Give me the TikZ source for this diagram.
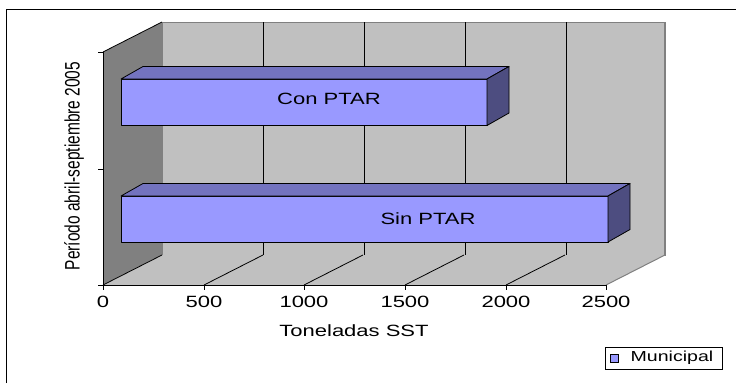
\documentclass[tikz,border=0pt]{standalone}
\usepackage{fontspec}
\setmainfont{Liberation Sans}
\usepackage{graphicx}
\definecolor{wallc}{HTML}{C0C0C0}
\definecolor{sidewallc}{HTML}{808080}
\definecolor{barfront}{HTML}{9999FF}
\definecolor{bartop}{HTML}{7373BF}
\definecolor{barside}{HTML}{4D4D80}
\newcommand\stretchx[1]{\scalebox{1.35}[1]{#1}}
\newcommand\stretchy[1]{\scalebox{1}[1.35]{#1}}
\begin{document}
\begin{tikzpicture}[x=1pt,y=-1pt,
  lbl/.style={font=\fontsize{16.3}{18}\selectfont, inner sep=0pt},
  wallline/.style={draw=sidewallc, line width=1pt},
  grid/.style={draw=black, line width=0.8pt},
  barface/.style={draw=black, line width=0.8pt, line join=round}]
\useasboundingbox (0,0) rectangle (736,383);
% outer frame (only top and left edges are visible)
\draw[line width=1pt] (6,383) -- (6,9) -- (736,9);
% back wall
\filldraw[fill=wallc, wallline] (162,22) rectangle (665,255);
% left wall
\fill[sidewallc] (103,52) -- (162,22) -- (162,255) -- (103,285) -- cycle;
% floor
\fill[wallc] (103,285) -- (606,285) -- (665,255) -- (162,255) -- cycle;
\draw[wallline] (606,285) -- (665,255);
\draw[sidewallc, line width=1.5pt] (665,22) -- (665,255);
% back wall gridlines
\foreach \gx in {263,364,465,566} \draw[grid] (\gx,22) -- (\gx,255);
% floor gridlines
\foreach \fx in {103,204,304,405,506} \draw[grid] (\fx,285) -- (\fx+59,255);
% left wall top edge
\draw[grid] (103,52) -- (162,22);
% axes
\draw[grid] (103,52) -- (103,285) -- (606,285);
\foreach \ty in {52,169,285} \draw[grid] (98,\ty) -- (103,\ty);
\foreach \tx in {103,204,304,405,506,606} \draw[grid] (\tx,285) -- (\tx,290);
% bar Con PTAR
\filldraw[barface, fill=barfront] (121,79) rectangle (487,125.5);
\filldraw[barface, fill=bartop] (121,79) -- (143,66.5) -- (509,66.5) -- (487,79) -- cycle;
\filldraw[barface, fill=barside] (487,79) -- (509,66.5) -- (509,113) -- (487,125.5) -- cycle;
% bar Sin PTAR
\filldraw[barface, fill=barfront] (121,196) rectangle (608,242);
\filldraw[barface, fill=bartop] (121,196) -- (143,183.5) -- (630,183.5) -- (608,196) -- cycle;
\filldraw[barface, fill=barside] (608,196) -- (630,183.5) -- (630,229.5) -- (608,242) -- cycle;
% bar labels
\node[lbl] (con) at (329,99) {\stretchx{Con PTAR}};
\node[lbl] (sin) at (428,219) {\stretchx{Sin PTAR}};
% tick labels
\node[lbl] (t0) at (103,302) {\stretchx{0}};
\node[lbl] (t1) at (204,302) {\stretchx{500}};
\node[lbl] (t2) at (304,302) {\stretchx{1000}};
\node[lbl] (t3) at (405,302) {\stretchx{1500}};
\node[lbl] (t4) at (506,302) {\stretchx{2000}};
\node[lbl] (t5) at (606,302) {\stretchx{2500}};
% axis titles
\node[lbl] (xt) at (354,331) {\stretchx{Toneladas SST}};
\node[lbl, font=\fontsize{15.5}{18}\selectfont, rotate=90] (yt) at (74,166) {\stretchy{Período abril-septiembre 2005}};
% legend
\draw[line width=0.8pt] (605,347) rectangle (722,369);
\filldraw[fill=barfront, draw=black, line width=0.6pt] (610,354) rectangle (618,362);
\node[lbl, font=\fontsize{14.5}{16}\selectfont] (leg) at (672,358) {\stretchx{Municipal}};
\end{tikzpicture}
\end{document}
